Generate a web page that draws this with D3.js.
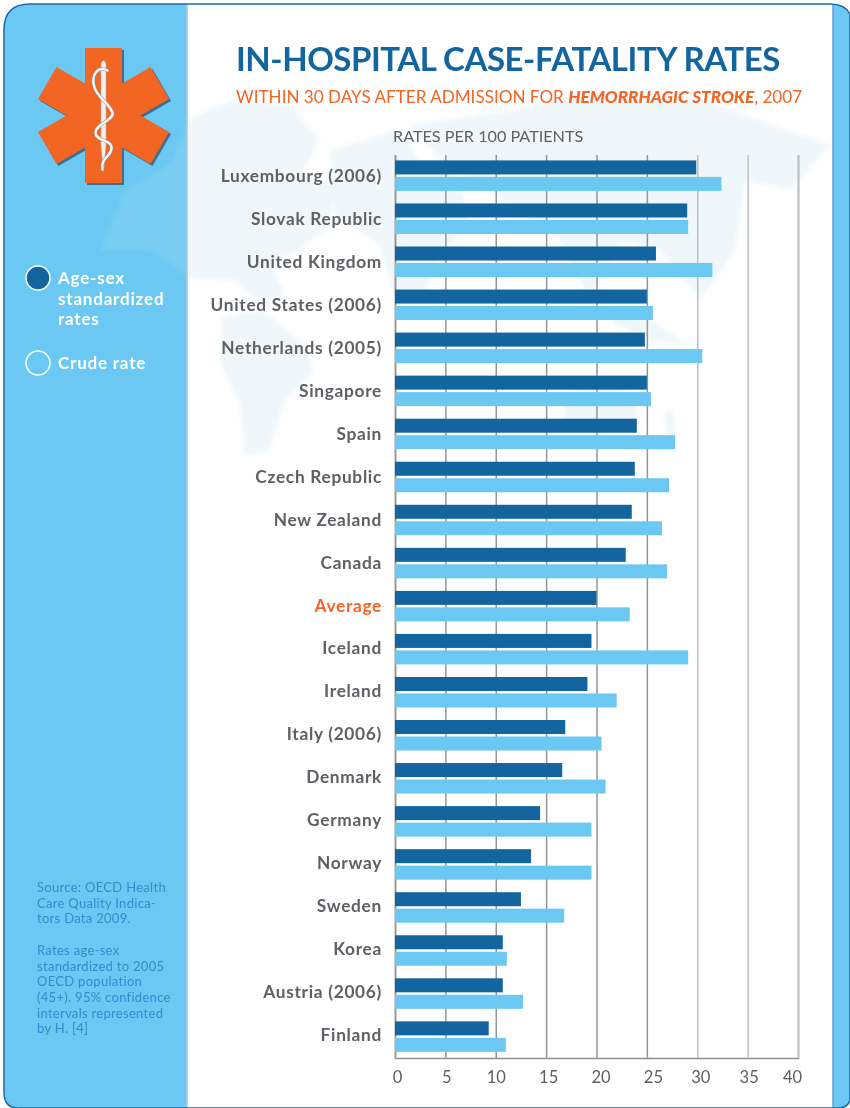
<!DOCTYPE html>
<html>
<head>
<meta charset="utf-8">
<script src="https://d3js.org/d3.v7.min.js"></script>
<style>
    html, body { margin: 0; padding: 0; background: #fff; }
    svg { display: block; font-family: Lato, sans-serif; }
</style>
</head>
<body>
<div id="svg-container"></div>
<script>
const countries = ['Luxembourg (2006)', 'Slovak Republic', 'United Kingdom', 'United States (2006)', 'Netherlands (2005)',
    'Singapore', 'Spain', 'Czech Republic', 'New Zealand', 'Canada', 'Average', 'Iceland', 'Ireland', 'Italy (2006)',
    'Denmark', 'Germany', 'Norway', 'Sweden', 'Korea', 'Austria (2006)', 'Finland']
const ageSexRates = [29.9, 29.0, 25.9, 25.0, 24.8, 25.0, 24.0, 23.8, 23.5, 22.9, 20.0, 19.5, 19.1, 16.9, 16.6, 14.4, 13.5, 12.5, 10.7, 10.7, 9.3]
const crudeRates = [32.4, 29.1, 31.5, 25.6, 30.5, 25.4, 27.8, 27.2, 26.5, 27.0, 23.3, 29.1, 22.0, 20.5, 20.9, 19.5, 19.5, 16.8, 11.1, 12.7, 11.0]
const tickValues = [0, 5, 10, 15, 20, 25, 30, 35, 40]
const legendLabels = [['Age-sex', 'standardized', 'rates'], ['Crude rate']]
const sourceLines = ['Source: OECD Health', 'Care Quality Indica-', 'tors Data 2009.', '', 'Rates age-sex', 'standardized to 2005',
    'OECD population', '(45+). 95% confidence', 'intervals represented', 'by H. [4]']

const width = 850
const height = 1108
const dark = '#13659f'
const light = '#6bc8f2'
const orange = '#f26522'
const grey = '#5d6064'

const svg = d3.select('#svg-container').append('svg').attr('width', width).attr('height', height)

// frame: one big rounded blue card with the white page on top
const cardPath = 'M4,30 Q4,4 30,4 L830,4 Q845,4 850,14 L850,1100 Q848,1108 838,1108 L18,1108 Q4,1108 4,1092 Z'
const defs = svg.append('defs')
defs.append('clipPath').attr('id', 'page').append('rect')
    .attr('x', 187).attr('y', 4).attr('width', 646).attr('height', 1104)
defs.append('clipPath').attr('id', 'side').append('rect')
    .attr('x', 4).attr('y', 4).attr('width', 183).attr('height', 1104)
defs.append('filter').attr('id', 'soft').append('feGaussianBlur').attr('stdDeviation', 2)

svg.append('path').attr('d', cardPath).attr('fill', light)
svg.append('rect').attr('x', 187).attr('y', 4).attr('width', 646).attr('height', 1104).attr('fill', '#fff')

// washed out world map behind everything
const landShapes = [
    'M100,250 L125,190 L170,165 L190,118 L235,100 L290,105 L320,140 L300,175 L335,185 L330,225 L300,250 L270,262 L285,295 L262,305 L235,280 L190,278 L150,250 Z',
    'M222,318 L262,310 L305,345 L314,372 L285,400 L268,452 L245,455 L240,405 L220,360 Z',
    'M330,150 L400,130 L425,170 L455,175 L470,215 L440,260 L420,300 L395,300 L380,245 L335,215 Z',
    'M410,125 L520,110 L590,90 L700,100 L830,145 L790,190 L745,180 L735,250 L700,300 L660,250 L620,240 L590,300 L560,240 L500,200 L440,160 Z',
    'M564,395 L600,378 L635,395 L637,425 L600,433 L566,420 Z',
    'M664,412 L672,410 L677,440 L668,444 Z',
    'M610,305 L650,320 L690,345 L650,340 L615,325 Z'
]
const mapPage = svg.append('g').attr('clip-path', 'url(#page)').append('g').attr('filter', 'url(#soft)')
mapPage.selectAll('path').data(landShapes).enter().append('path')
    .attr('d', d => d).attr('fill', '#eff7fb')
const mapSide = svg.append('g').attr('clip-path', 'url(#side)').append('g').attr('filter', 'url(#soft)')
mapSide.selectAll('path').data(landShapes).enter().append('path')
    .attr('d', d => d).attr('fill', '#fff').attr('opacity', 0.1)

svg.append('line').attr('x1', 187).attr('x2', 187).attr('y1', 4).attr('y2', 1108).attr('stroke', '#a3c9e6').attr('stroke-width', 1.5)
svg.append('line').attr('x1', 833).attr('x2', 833).attr('y1', 4).attr('y2', 1108).attr('stroke', '#5da3d8').attr('stroke-width', 1.5)
svg.append('path').attr('d', cardPath).attr('fill', 'none').attr('stroke', '#1c6aa6').attr('stroke-width', 1.5)

// titles
svg.append('text').attr('x', 236).attr('y', 71).attr('fill', dark)
    .style('font-size', '33px').style('font-weight', 700).style('letter-spacing', '-0.45px')
    .text('IN-HOSPITAL CASE-FATALITY RATES')
const subtitle = svg.append('text').attr('x', 236).attr('y', 103).attr('fill', orange)
    .style('font-size', '17.1px')
subtitle.append('tspan').text('WITHIN 30 DAYS AFTER ADMISSION FOR ')
subtitle.append('tspan').style('font-weight', 900).style('font-style', 'italic').text('HEMORRHAGIC STROKE')
subtitle.append('tspan').text(', 2007')
svg.append('text').attr('x', 393).attr('y', 142).attr('fill', grey)
    .style('font-size', '16.2px').text('RATES PER 100 PATIENTS')

// chart
const margin = { top: 155, left: 395, right: 52, bottom: 50 }
const chartWidth = width - margin.left - margin.right
const chartHeight = height - margin.top - margin.bottom

const xScale = d3.scaleLinear().domain([0, 40]).range([0, chartWidth])
const yScale = d3.scaleBand().domain(countries).range([0, chartHeight + 1])
const seriesScale = d3.scaleBand().domain(['age', 'crude']).range([5.4, 35.9]).paddingInner(0.15)

const g = svg.append('g').attr('transform', `translate(${margin.left}, ${margin.top})`)

// labels do not sit exactly under their gridlines in the original
const tickNudge = [2, 1, 0, 2, 4, 6, 3, 1, -6]
const xAxis = d3.axisBottom(xScale).tickValues(tickValues).tickSize(-chartHeight).tickPadding(13)
const xAxisG = g.append('g').attr('transform', `translate(0, ${chartHeight})`).call(xAxis)
xAxisG.select('.domain').attr('stroke', '#8f8f8f').attr('stroke-width', 1.5)
xAxisG.selectAll('.tick line').attr('stroke', (d, i) => i > 5 ? '#bdbec0' : '#929497').attr('stroke-width', 1.5)
xAxisG.selectAll('.tick text')
    .attr('dx', (d, i) => tickNudge[i])
    .attr('fill', grey).style('font-size', '16.5px').style('font-family', 'Lato, sans-serif')

const rows = countries.map((c, i) => ({ country: c, age: ageSexRates[i], crude: crudeRates[i] }))
const rowG = g.selectAll('.row').data(rows).enter().append('g')
    .attr('class', 'row')
    .attr('transform', d => `translate(0, ${yScale(d.country)})`)
rowG.append('rect')
    .attr('y', seriesScale('age')).attr('height', seriesScale.bandwidth())
    .attr('width', d => xScale(d.age)).attr('fill', dark)
rowG.append('rect')
    .attr('y', seriesScale('crude')).attr('height', seriesScale.bandwidth())
    .attr('width', d => xScale(d.crude)).attr('fill', light)

const yAxis = d3.axisLeft(yScale).tickSize(0).tickPadding(13)
const yAxisG = g.append('g').call(yAxis)
yAxisG.select('.domain').remove()
yAxisG.selectAll('.tick text')
    .attr('y', (d, i) => -i * 0.1)
    .attr('fill', d => d === 'Average' ? orange : grey)
    .style('font-size', '17.3px').style('font-weight', 700).style('letter-spacing', '0.7px')
    .style('font-family', 'Lato, sans-serif')

// star of life
const star = svg.append('g').attr('transform', 'translate(103.5, 115.5)')
const armAngles = [0, 60, 120]
const armLength = d => d === 0 ? 135 : 130
star.selectAll('.shadow').data(armAngles).enter().append('rect')
    .attr('class', 'shadow')
    .attr('x', -18.5).attr('y', d => -armLength(d) / 2).attr('width', 37).attr('height', armLength)
    .attr('fill', '#3d6f8f').attr('transform', d => `translate(2, 2) rotate(${d})`)
star.selectAll('.arm').data(armAngles).enter().append('rect')
    .attr('class', 'arm')
    .attr('x', -18.5).attr('y', d => -armLength(d) / 2).attr('width', 37).attr('height', armLength)
    .attr('fill', orange).attr('transform', d => `rotate(${d})`)
star.append('path').attr('d', 'M-2.5,-52 Q0,-58 2.5,-52 L2.5,30 L0,56 L-2.5,30 Z').attr('fill', '#f0f0f0').attr('stroke', '#b9b4b0').attr('stroke-width', 0.6)
const snake = 'M4,-45 C-6,-50 -13,-40 -9,-28 C-6,-18 6,-12 9,-3 C11,5 -8,8 -8,17 C-8,26 9,24 8,33 C7,42 -3,42 -1,54'
star.append('path').attr('d', snake)
    .attr('fill', 'none').attr('stroke', '#9a9490').attr('stroke-width', 3.4).attr('stroke-linecap', 'round')
star.append('path').attr('d', snake)
    .attr('fill', 'none').attr('stroke', '#f6f6f6').attr('stroke-width', 2.4).attr('stroke-linecap', 'round')

// legend
const legendY = [278, 363]
const legend = svg.selectAll('.legend').data(legendLabels).enter().append('g')
    .attr('class', 'legend').attr('transform', (d, i) => `translate(38, ${legendY[i]})`)
legend.append('circle').attr('r', 12).attr('fill', (d, i) => i === 0 ? dark : light)
    .attr('stroke', '#fff').attr('stroke-width', 1.5)
legend.each(function (lines) {
    d3.select(this).selectAll('text').data(lines).enter().append('text')
        .attr('x', 20).attr('y', (d, i) => 6 + i * 20.7)
        .attr('fill', '#fff').style('font-size', '17px').style('font-weight', 700).style('letter-spacing', '0.8px')
        .text(d => d)
})

// source note
svg.append('g').selectAll('text').data(sourceLines).enter().append('text')
    .attr('x', 37).attr('y', (d, i) => 892 + i * 15.7)
    .attr('fill', '#2f8ecb').style('font-size', '13px').style('letter-spacing', '0.3px')
    .text(d => d)
</script>
</body>
</html>
